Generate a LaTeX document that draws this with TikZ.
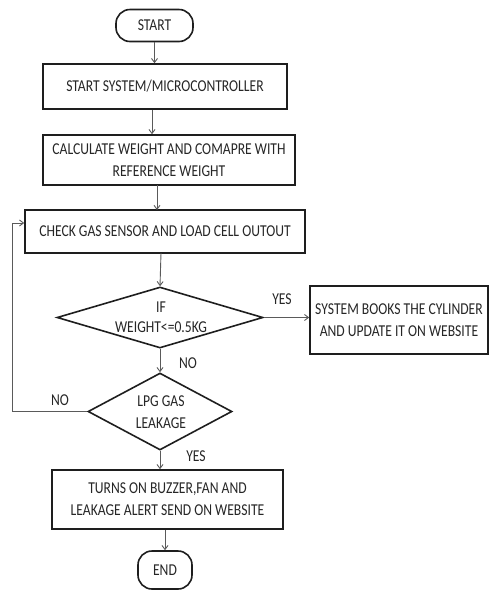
\documentclass[tikz,border=0pt]{standalone}
\usepackage{fontspec}
\setmainfont{Carlito}[FakeStretch=0.82]
\usetikzlibrary{shapes.geometric,arrows.meta}
\definecolor{edge}{HTML}{1E1E1E}
\definecolor{arr}{HTML}{5A5A5A}
\definecolor{txt}{HTML}{262626}
\tikzset{
  every node/.style={text=txt,font=\fontsize{16.6}{22}\selectfont},
  terminal/.style={draw=edge,line width=1.6pt,rounded corners=14pt,inner sep=0pt},
  procbox/.style={draw=edge,line width=1.6pt,inner sep=0pt,align=center},
  decision/.style={draw=edge,line width=1.6pt,diamond,inner sep=0pt,align=center},
  flow/.style={draw=arr,line width=0.9pt,-{Straight Barb[length=4pt,width=6pt]}},
  lbl/.style={inner sep=0pt,align=center}
}
\begin{document}
\begin{tikzpicture}[x=1pt,y=-1pt]
\useasboundingbox (0,0) rectangle (490,590);
\node[terminal,minimum width=77pt,minimum height=32pt] (start) at (154.5,25.5) {START};
\node[procbox,minimum width=244pt,minimum height=45pt] (b1) at (165,86.5) {START SYSTEM/MICROCONTROLLER};
\node[procbox,minimum width=252pt,minimum height=50pt] (b2) at (169,160) {CALCULATE WEIGHT AND COMAPRE WITH\\REFERENCE WEIGHT};
\node[procbox,minimum width=280pt,minimum height=43pt] (b3) at (165,231.5) {CHECK GAS SENSOR AND LOAD CELL OUTOUT};
\node[decision,minimum width=206pt,minimum height=61pt,aspect=3.4] (d1) at (160,317.5) {};
\node[lbl] (d1t) at (161,317) {IF\\[-2pt]WEIGHT<=0.5KG};
\node[procbox,minimum width=178pt,minimum height=68pt] (rb) at (399,320) {SYSTEM BOOKS THE CYLINDER\\AND UPDATE IT ON WEBSITE};
\node[decision,minimum width=144pt,minimum height=77pt,aspect=1.9] (d2) at (160,411.5) {};
\node[lbl] (d2t) at (161,412) {LPG GAS\\LEAKAGE};
\node[procbox,minimum width=231pt,minimum height=59pt] (b4) at (167.5,499.5) {TURNS ON BUZZER,FAN AND\\LEAKAGE ALERT SEND ON WEBSITE};
\node[terminal,minimum width=54pt,minimum height=38pt] (end) at (165,570) {END};
\coordinate (loop) at (12,223);
\node[lbl] (yes1) at (282,299) {YES};
\node[lbl] (no1) at (188,363) {NO};
\node[lbl] (no2) at (60,400) {NO};
\node[lbl] (yes2) at (196,456) {YES};
\draw[flow] (start.south) -- (start.south |- b1.north);
\draw[flow] ([xshift=-13pt]b1.south) -- ([xshift=-13pt]b1.south |- b2.north);
\draw[flow] (157,185) -- (157,210);
\draw[flow] (161,253) -- (d1.north);
\draw[flow] (d1.south) -- (d2.north);
\draw[flow] (d1.east) -- (d1.east -| rb.west);
\draw[flow] (d2.south) -- (d2.south |- b4.north);
\draw[flow] ([xshift=-2.5pt]b4.south) -- ([xshift=-2.5pt]b4.south |- end.north);
\draw[flow] (d2.west) -| (loop) -- (loop -| b3.west);
\end{tikzpicture}
\end{document}
